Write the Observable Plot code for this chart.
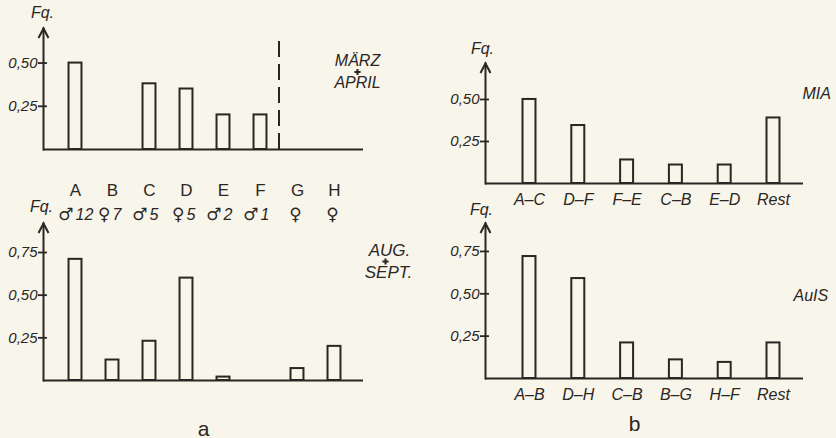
<!DOCTYPE html>
<html><head><meta charset="utf-8">
<script src="https://cdn.jsdelivr.net/npm/d3@7"></script>
<script src="https://cdn.jsdelivr.net/npm/@observablehq/plot@0.6"></script>
<style>
html,body{margin:0;padding:0;background:#f8f5eb;}
#fig{position:relative;width:836px;height:438px;overflow:hidden;background:#f8f5eb;}
</style></head><body><div id="fig"></div>
<script>
// ---------- data ----------
const individuals = ["A","B","C","D","E","F","G","H"];
const sexSymbols = ["♂","♀","♂","♀","♂","♂","♀","♀"];
const sexCounts = ["12","7","5","5","2","1","",""];
const marchApril = [0.50, 0, 0.38, 0.35, 0.20, 0.20, 0, 0];
const augSept = [0.71, 0.12, 0.23, 0.60, 0.02, 0, 0.07, 0.20];
const miaPairs = ["A–C","D–F","F–E","C–B","E–D","Rest"];
const miaValues = [0.50, 0.345, 0.14, 0.11, 0.11, 0.39];
const auisPairs = ["A–B","D–H","C–B","B–G","H–F","Rest"];
const auisValues = [0.72, 0.59, 0.21, 0.11, 0.095, 0.21];
const ticksUpper = [0.25, 0.50];
const ticksLower = [0.25, 0.50, 0.75];
const axisTitle = ["Fq."];
const periodMA = ["MÄRZ", "APRIL"];
const periodAS = ["AUG.", "SEPT."];
const periodMIA = ["MIA"];
const periodAuIS = ["AuIS"];
const panelLetters = ["a", "b"];

// ---------- style ----------
const ink = "#2a2623";
const font = "'Liberation Sans', 'DejaVu Sans', Arial, sans-serif";
const symbolFont = "'DejaVu Sans', sans-serif";
const baseStyle = {background: "transparent", color: ink, fontFamily: font, fontSize: "15px", overflow: "visible"};
const fmtComma = d => d.toFixed(2).replace(".", ",");
const rows = (cats, vals) => cats.map((c, i) => ({cat: c, value: vals[i]})).filter(d => d.value > 0);
const sexRows = individuals.map((c, i) => ({cat: c, sym: sexSymbols[i], n: sexCounts[i]}));

const chevron = {draw(ctx, size) {
  const r = Math.sqrt(size / Math.PI);
  ctx.moveTo(-r, 1.9 * r); ctx.lineTo(0, 0); ctx.lineTo(r, 1.9 * r);
}};

function axisMarks(ticks, fqdx, fqdy) {
  return [
    Plot.frame({anchor: "left", stroke: ink, strokeWidth: 2}),
    Plot.ruleY([0], {stroke: ink, strokeWidth: 2}),
    Plot.axisY({ticks, tickSize: 9, dx: 4, strokeWidth: 1.8, tickFormat: () => "", label: null}),
    Plot.axisY({ticks, tickSize: 0, tickPadding: 6, tickFormat: fmtComma, fontSize: 15, fontStyle: "italic", label: null}),
    Plot.dot([0], {frameAnchor: "top-left", symbol: chevron, r: 5, stroke: ink, strokeWidth: 2, fill: "none"}),
    Plot.text(axisTitle, {frameAnchor: "top-left", text: d => d, dx: fqdx, dy: fqdy, textAnchor: "middle", lineAnchor: "bottom", fontSize: 16, fontStyle: "italic"})
  ];
}

// two-line period label joined by a small bold plus sign
function period(lines, dxs, dys, plus, size) {
  return [
    ...lines.map((t, i) => Plot.text([t], {
      frameAnchor: "top-right", text: d => d, dx: dxs[i], dy: dys[i], textAnchor: "middle", lineAnchor: "bottom",
      fontSize: size, fontStyle: "italic"
    })),
    Plot.dot([0], {frameAnchor: "top-right", dx: plus[0], dy: plus[1], symbol: "cross", r: 2.6, fill: ink, stroke: "none"})
  ];
}

const fig = document.getElementById("fig");
function mount(svg, left, top) {
  svg.style.position = "absolute";
  svg.style.left = left + "px";
  svg.style.top = top + "px";
  fig.appendChild(svg);
}

const xA = {domain: individuals, range: [56.5, 352.5], paddingInner: 0.65, paddingOuter: 0.325, round: false};

// ---------- panel a, top (März + April) ----------
mount(Plot.plot({
  width: 420, height: 200, marginLeft: 43, marginRight: 57, marginTop: 28, marginBottom: 51,
  style: baseStyle,
  x: xA,
  y: {domain: [0, 0.70]},
  marks: [
    ...axisMarks(ticksUpper, -1, -11),
    Plot.barY(rows(individuals, marchApril), {x: "cat", y: "value", fill: "none", stroke: ink, strokeWidth: 2}),
    Plot.ruleX(["F"], {dx: 18.5, y1: 0, y2: 0.64, stroke: ink, strokeWidth: 2, strokeDasharray: "16,7"}),
    Plot.axisX({anchor: "bottom", tickSize: 0, tickPadding: 34, fontSize: 17, label: null}),
    ...period(periodMA, [-6, -6], [37, 59], [-6, 43.5], 16)
  ]
}), 0, 0);

// ---------- panel a, bottom (Aug + Sept) ----------
const withCount = sexRows.filter(d => d.n !== "");
const withoutCount = sexRows.filter(d => d.n === "");
mount(Plot.plot({
  width: 420, height: 238, marginLeft: 43, marginRight: 57, marginTop: 23, marginBottom: 58,
  style: baseStyle,
  x: {...xA, axis: null},
  y: {domain: [0, 0.92]},
  marks: [
    ...axisMarks(ticksLower, -2, -12),
    Plot.barY(rows(individuals, augSept), {x: "cat", y: "value", fill: "none", stroke: ink, strokeWidth: 2}),
    Plot.text(withCount, {x: "cat", text: "sym", frameAnchor: "top", dx: -2, dy: -4, textAnchor: "end", lineAnchor: "bottom", fontSize: 17, fontFamily: symbolFont}),
    Plot.text(withCount, {x: "cat", text: "n", frameAnchor: "top", dx: 0, dy: -4, textAnchor: "start", lineAnchor: "bottom", fontSize: 16, fontStyle: "italic"}),
    Plot.text(withoutCount, {x: "cat", text: "sym", frameAnchor: "top", dx: -2, dy: -4, textAnchor: "middle", lineAnchor: "bottom", fontSize: 17, fontFamily: symbolFont}),
    ...period(periodAS, [26, 25], [32, 54], [22, 38], 17),
    Plot.text([panelLetters[0]], {frameAnchor: "bottom", text: d => d, dy: 55, lineAnchor: "bottom", fontSize: 21})
  ]
}), 0, 200);

const xB = {range: [84.6, 377.4], paddingInner: 0.734, paddingOuter: 0.367, round: false};

// ---------- panel b, top (MIA) ----------
mount(Plot.plot({
  width: 416, height: 215, marginLeft: 65, marginRight: 33, marginTop: 63, marginBottom: 32,
  style: baseStyle,
  x: {...xB, domain: miaPairs},
  y: {domain: [0, 0.714]},
  marks: [
    ...axisMarks(ticksUpper, -3, -10),
    Plot.barY(rows(miaPairs, miaValues), {x: "cat", y: "value", fill: "none", stroke: ink, strokeWidth: 2}),
    Plot.axisX({anchor: "bottom", tickSize: 0, tickPadding: 10, fontSize: 16, fontStyle: "italic", label: null}),
    Plot.text(periodMIA, {frameAnchor: "top-right", text: d => d, dx: -1, dy: 35, textAnchor: "start", lineAnchor: "bottom", fontSize: 16, fontStyle: "italic"})
  ]
}), 420, 0);

// ---------- panel b, bottom (AuIS) ----------
mount(Plot.plot({
  width: 416, height: 238, marginLeft: 65, marginRight: 33, marginTop: 23, marginBottom: 60,
  style: baseStyle,
  x: {...xB, domain: auisPairs},
  y: {domain: [0, 0.915]},
  marks: [
    ...axisMarks(ticksLower, -4, -9),
    Plot.barY(rows(auisPairs, auisValues), {x: "cat", y: "value", fill: "none", stroke: ink, strokeWidth: 2}),
    Plot.axisX({anchor: "bottom", tickSize: 0, tickPadding: 10, fontSize: 16, fontStyle: "italic", label: null}),
    Plot.text(periodAuIS, {frameAnchor: "top-right", text: d => d, dx: -10, dy: 77, textAnchor: "start", lineAnchor: "bottom", fontSize: 16, fontStyle: "italic"}),
    Plot.text([panelLetters[1]], {frameAnchor: "bottom", text: d => d, dx: -10, dy: 52, lineAnchor: "bottom", fontSize: 21})
  ]
}), 420, 200);
</script></body></html>
